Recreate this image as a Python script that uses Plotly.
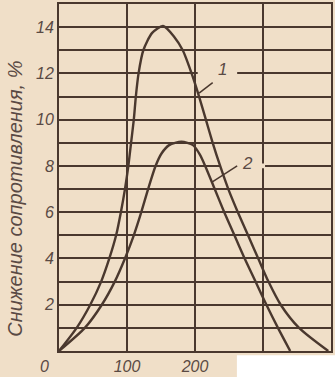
import plotly.graph_objects as go

# Curve 1 (upper curve)
c1_x = [0, 26, 46, 62, 74, 84, 91, 97, 102, 106, 110, 113, 117, 124, 137, 153, 169, 182, 195, 206, 216, 226, 237, 249, 263, 278, 293, 308, 326, 353, 396]
c1_y = [0, 1, 2, 3, 4, 5, 6, 7, 8, 9, 10, 11, 12, 13, 13.75, 14.05, 13.6, 13, 12, 11, 10, 9, 8, 7, 6, 5, 4, 3, 2, 1, 0]

# Curve 2 (lower curve)
c2_x = [0, 38, 63, 82, 97, 110, 121, 131, 142, 151, 162, 180, 197, 207, 215, 229, 243, 258, 273, 289, 305, 322, 340]
c2_y = [0, 1, 2, 3, 4, 5, 6, 7, 8, 8.55, 8.9, 9.05, 8.9, 8.5, 8, 7, 6, 5, 4, 3, 2, 1, 0]

x_tickvals = [0, 100, 200, 300, 400]
x_ticktext = ["", "100", "200", "", ""]
y_tickvals = list(range(0, 16))
y_ticktext = [str(v) if (v % 2 == 0 and 0 < v < 15) else "" for v in y_tickvals]

curve_labels = ["1", "2"]
y_title = "Снижение сопротивления, %"

BG = "#F0DFC8"
INK = "#4A382E"
TXT = "#5A4A44"
FONT = "Liberation Sans Narrow, Liberation Sans, Arial, sans-serif"

fig = go.Figure()
for xs, ys in [(c1_x, c1_y), (c2_x, c2_y)]:
    fig.add_trace(go.Scatter(x=xs, y=ys, mode="lines",
                             line=dict(color=INK, width=2.4, shape="spline", smoothing=0.7),
                             showlegend=False, hoverinfo="skip"))

fig.update_layout(
    width=335, height=377,
    margin=dict(l=59, r=4, t=2, b=26),
    paper_bgcolor=BG, plot_bgcolor=BG,
    xaxis=dict(range=[0, 400], tickvals=x_tickvals, ticktext=x_ticktext,
               showgrid=True, gridcolor=INK, gridwidth=1.6,
               showline=True, mirror=True, linecolor=INK, linewidth=2,
               zeroline=False, ticks="",
               tickfont=dict(family=FONT, size=16, color=TXT, style="italic")),
    yaxis=dict(range=[0, 15], tickvals=y_tickvals, ticktext=y_ticktext,
               showgrid=True, gridcolor=INK, gridwidth=1.6,
               showline=True, mirror=True, linecolor=INK, linewidth=2,
               zeroline=False, ticks="",
               tickfont=dict(family=FONT, size=16, color=TXT, style="italic")),
)

# gaps in grid lines behind labels
fig.add_shape(type="rect", xref="x", yref="y", x0=204, x1=262, y0=11.9, y1=12.1,
              fillcolor=BG, line=dict(width=0), layer="between")
fig.add_shape(type="rect", xref="x", yref="y", x0=238, x1=303, y0=7.9, y1=8.1,
              fillcolor=BG, line=dict(width=0), layer="between")

# leader lines
fig.add_shape(type="line", xref="x", yref="y", x0=226, y0=11.6, x1=206, y1=11.15,
              line=dict(color=INK, width=1.5))
fig.add_shape(type="line", xref="x", yref="y", x0=262, y0=8.0, x1=225, y1=7.3,
              line=dict(color=INK, width=1.5))

fig.add_annotation(x=240, y=12.15, xref="x", yref="y", text=curve_labels[0], showarrow=False,
                   font=dict(family=FONT, size=17, color=TXT, style="italic"))
fig.add_annotation(x=277, y=8.1, xref="x", yref="y", text=curve_labels[1], showarrow=False,
                   font=dict(family=FONT, size=17, color=TXT, style="italic"))

# "0" x tick label (offset left in the original)
fig.add_annotation(x=0, y=0, xref="x", yref="paper", text="0", showarrow=False,
                   xanchor="center", yanchor="top", xshift=-15, yshift=-5,
                   font=dict(family=FONT, size=16, color=TXT, style="italic"))

# y title
fig.add_annotation(x=-0.16, y=0.44, xref="paper", yref="paper", text=y_title, showarrow=False,
                   xanchor="center", yanchor="middle", textangle=-90,
                   font=dict(family=FONT, size=20, color=TXT, style="italic"))

# white cropped corner at bottom right
fig.add_shape(type="rect", xref="paper", yref="paper", x0=0.654, x1=1.05, y0=-0.012, y1=-0.1,
              fillcolor="white", line=dict(width=0), layer="above")

fig.write_html("out.html")
